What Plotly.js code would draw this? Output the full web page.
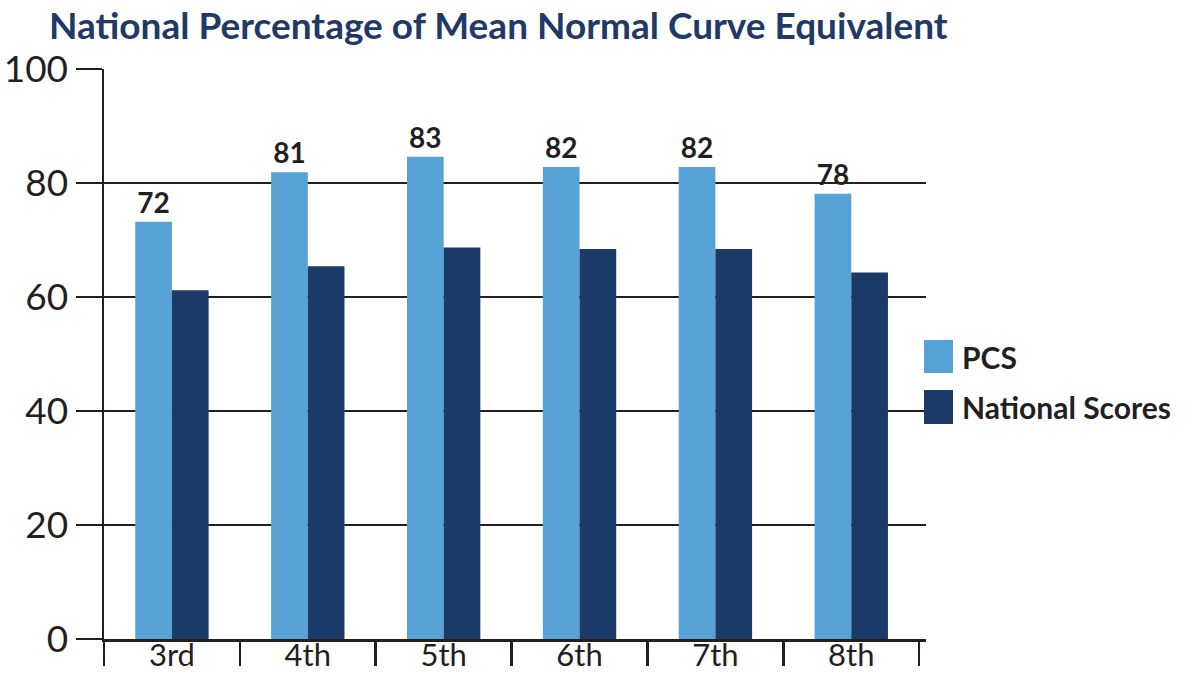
<!DOCTYPE html>
<html>
<head>
<meta charset="utf-8">
<script src="https://cdn.plot.ly/plotly-3.0.1.min.js"></script>
<style>
html,body{margin:0;padding:0;background:#fff;}
#chart{width:1194px;height:673px;}
</style>
</head>
<body>
<div id="chart"></div>
<script>
var grades = ["3rd", "4th", "5th", "6th", "7th", "8th"];
var pcsValues = [73.2, 81.9, 84.6, 82.8, 82.8, 78.1];
var pcsLabels = ["72", "81", "83", "82", "82", "78"];
var nationalValues = [61.2, 65.4, 68.7, 68.4, 68.4, 64.3];
var seriesNames = ["PCS", "National Scores"];
var seriesColors = ["#56a2d4", "#1c3a68"];
var yTicks = [0, 20, 40, 60, 80, 100];

var FONT = "Lato, 'Open Sans', sans-serif";
var INK = "#231f20";

var traces = [
  {
    type: "bar", x: grades, y: pcsValues, name: seriesNames[0],
    marker: {color: seriesColors[0]},
    text: pcsLabels, textposition: "outside", texttemplate: "<b>%{text}</b>",
    textfont: {family: FONT, size: 28, color: INK},
    cliponaxis: false, hoverinfo: "x+y"
  },
  {
    type: "bar", x: grades, y: nationalValues, name: seriesNames[1],
    marker: {color: seriesColors[1]},
    hoverinfo: "x+y"
  }
];

var M = {l: 104, r: 268, t: 69, b: 34};
var plotW = 1194 - M.l - M.r, plotH = 673 - M.t - M.b;
function px(xp){ return (xp - M.l) / plotW; }
function py(yp){ return (673 - M.b - yp) / plotH; }

var shapes = [], annotations = [];
var legendBoxes = [[340, 373], [390, 424]];
var legendTextY = [357, 407];
for (var i = 0; i < seriesNames.length; i++) {
  shapes.push({type: "rect", xref: "paper", yref: "paper",
    x0: px(924), x1: px(953), y0: py(legendBoxes[i][1]), y1: py(legendBoxes[i][0]),
    fillcolor: seriesColors[i], line: {width: 0}});
  annotations.push({xref: "paper", yref: "paper", x: px(960), y: py(legendTextY[i]),
    xanchor: "left", yanchor: "middle", showarrow: false,
    text: "<b>" + seriesNames[i] + "</b>",
    font: {family: FONT, size: 30, color: INK}});
}

var layout = {
  width: 1194, height: 673,
  margin: M,
  paper_bgcolor: "#ffffff", plot_bgcolor: "#ffffff",
  showlegend: false,
  barmode: "group", bargap: 0.46, bargroupgap: 0,
  font: {family: FONT, color: INK},
  title: {
    text: "<b>National Percentage of Mean Normal Curve Equivalent</b>",
    font: {family: FONT, size: 37, color: "#1f3a68"},
    x: 49 / 1194, xanchor: "left", xref: "container",
    y: 1 - 26 / 673, yanchor: "middle", yref: "container"
  },
  xaxis: {
    type: "category", range: [-0.5, 5.55],
    tickson: "boundaries", ticks: "outside", ticklen: 24, tickwidth: 2.5, tickcolor: INK,
    ticklabelstandoff: -13,
    showgrid: false, showline: true, linecolor: INK, linewidth: 2.5,
    tickfont: {family: FONT, size: 31, color: INK},
    zeroline: false, fixedrange: true
  },
  yaxis: {
    range: [0, 100], tickvals: yTicks,
    ticks: "outside", ticklen: 26, tickwidth: 2.5, tickcolor: INK,
    showgrid: true, gridcolor: INK, gridwidth: 2.5,
    showline: true, linecolor: INK, linewidth: 2.5,
    zeroline: false,
    tickfont: {family: FONT, size: 37, color: INK},
    fixedrange: true
  },
  shapes: shapes,
  annotations: annotations
};

Plotly.newPlot("chart", traces, layout, {displayModeBar: false, staticPlot: true});
</script>
</body>
</html>
